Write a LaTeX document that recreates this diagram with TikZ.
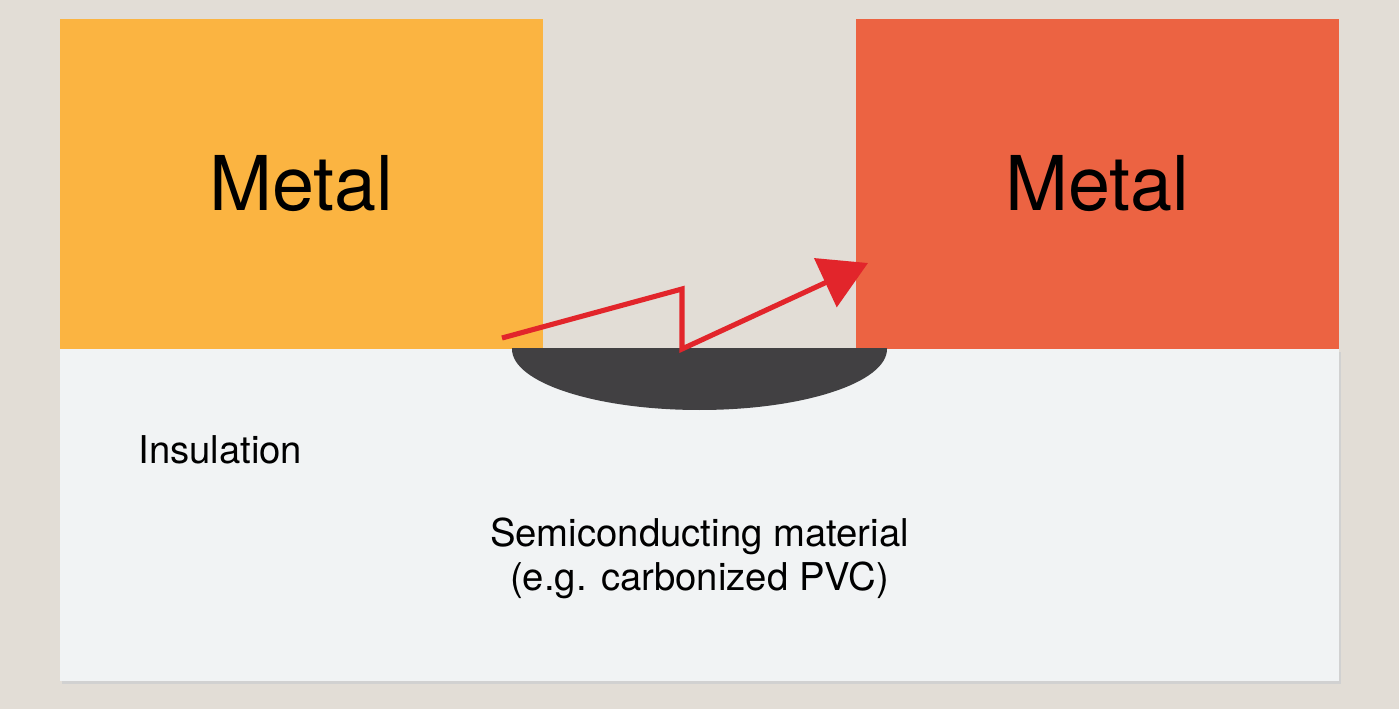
\documentclass[tikz,border=0pt]{standalone}
\usepackage{fontspec}
\setmainfont{TeX Gyre Heros}
\usepackage{xcolor}
\usetikzlibrary{arrows.meta, positioning, calc}

\definecolor{bgphoto}{HTML}{E2DDD6}
\definecolor{metalA}{HTML}{FBB441}
\definecolor{metalB}{HTML}{EC6342}
\definecolor{insul}{HTML}{F1F3F4}
\definecolor{carbon}{HTML}{414042}
\definecolor{spark}{HTML}{E2252B}

\begin{document}
\begin{tikzpicture}[
    x=0.02cm, y=-0.02cm,
    metal/.style={rectangle, inner sep=0pt, minimum width=9.66cm, minimum height=6.6cm, font=\fontsize{43}{50}\selectfont},
    layer/.style={rectangle, fill=insul, inner sep=0pt, minimum width=25.58cm, minimum height=6.64cm},
    label/.style={inner sep=0pt, align=center, font=\fontsize{21.8}{25}\selectfont},
    path/.style={draw=spark, line width=2.9pt, line join=miter, -{Triangle[length=9.4mm, width=10.6mm]}}
]
    % Background
    \fill[bgphoto] (0,0) rectangle (1399,709);
    \useasboundingbox (0,0) rectangle (1399,709);

    % Insulation layer
    \fill[black!18] (62,352) rectangle (1341,684);
    \node[layer] (INS) at (699.5,515) {};

    % Metal blocks
    \node[metal, fill=metalA] (M1) at (301.5,184) {Metal};
    \node[metal, fill=metalB] (M2) at (1097.5,184) {Metal};

    % Carbonized track
    \begin{scope}
        \clip (500,349) rectangle (900,430);
        \fill[carbon] (699.5,349) ellipse [x radius=187.5, y radius=61];
    \end{scope}

    % Labels
    \node[label, anchor=base west] (LINS) at (138,463) {Insulation};
    \node[label, anchor=base] (LSEMI) at (699.5,590) {Semiconducting material\\(e.g. carbonized PVC)};

    % Leakage path
    \coordinate (P0) at (502,338);
    \coordinate (P1) at (682,289);
    \coordinate (P2) at (682,349);
    \coordinate (P3) at (868,263);
    \draw[path] (P0) -- (P1) -- (P2) -- (P3);
\end{tikzpicture}
\end{document}
